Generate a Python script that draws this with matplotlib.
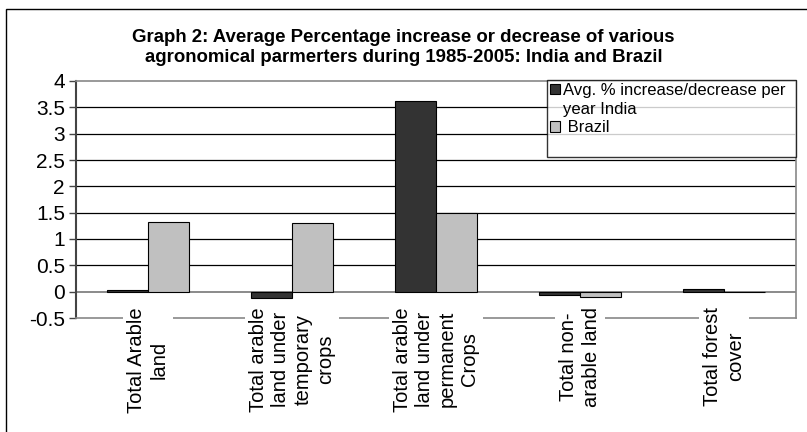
import matplotlib.pyplot as plt
import matplotlib.patches as mpatches
import numpy as np

plt.rcParams['font.family'] = ['Liberation Sans', 'DejaVu Sans']
plt.rcParams['axes.unicode_minus'] = False

categories = ["Total Arable\nland",
              "Total arable\nland under\ntemporary\ncrops",
              "Total arable\nland under\npermanent\nCrops",
              "Total non-\narable land",
              "Total forest\ncover"]
india = [0.03, -0.12, 3.62, -0.06, 0.06]
brazil = [1.33, 1.30, 1.49, -0.11, -0.01]
india_label = ["Avg. % increase/decrease per", "year India"]
brazil_label = " Brazil"
yticks = [-0.5, 0, 0.5, 1, 1.5, 2, 2.5, 3, 3.5, 4]

W, H = 807, 432
fig = plt.figure(figsize=(W / 100, H / 100), dpi=100)

# outer chart border (cut off on the right and bottom like the source)
fig.patches.append(mpatches.Rectangle((6 / W, -0.1), 1.2, 1.1 - 9 / H, transform=fig.transFigure,
                                      fill=False, edgecolor='black', linewidth=1.0))

ax = fig.add_axes([76 / W, 1 - 318 / H, (796 - 76) / W, (318 - 81) / H])

x = np.arange(len(categories))
bw = 1 / 3.5
b1 = ax.bar(x - bw / 2, india, bw, color='#333333', edgecolor='black', linewidth=0.8, zorder=3)
b2 = ax.bar(x + bw / 2, brazil, bw, color='#c0c0c0', edgecolor='black', linewidth=0.8, zorder=3)

ax.set_xlim(-0.5, len(categories) - 0.5)
ax.set_ylim(-0.5, 4)
ax.set_yticks(yticks)
ax.set_yticklabels([f"{v:g}" for v in yticks], fontsize=15)

# gridlines black, excel-like
for v in yticks[2:-1]:
    ax.axhline(v, color='black', linewidth=0.9, zorder=1)
ax.axhline(0, color='#777777', linewidth=1.2, zorder=2)

for side in ['top', 'right', 'bottom']:
    ax.spines[side].set_color('#888888')
    ax.spines[side].set_linewidth(1.2)
ax.spines['left'].set_color('#444444')
ax.spines['left'].set_linewidth(1.5)

ax.tick_params(axis='y', length=5, width=1, color='#444444', pad=3)
ax.tick_params(axis='x', length=0, pad=-8)
ax.set_xticks(x)
ax.set_xticklabels(categories, rotation=90, fontsize=14.5, ha='center', va='top',
                   multialignment='center', linespacing=1.22)
for lab in ax.get_xticklabels():
    lab.set_bbox(dict(facecolor='white', edgecolor='none', pad=3))
ax.xaxis.set_zorder(3)

fig.text(0.5, 1 - 38 / H, "Graph 2: Average Percentage increase or decrease of various",
         ha='center', va='center', fontsize=13.4, fontweight='bold')
fig.text(0.5, 1 - 57 / H, "agronomical parmerters during 1985-2005: India and Brazil",
         ha='center', va='center', fontsize=13.4, fontweight='bold')

blank = mpatches.Rectangle((0, 0), 1, 1, visible=False)
leg = fig.legend([b1, blank, b2, blank], [india_label[0], india_label[1], brazil_label, " "],
                 loc='upper left',
                 bbox_to_anchor=(547 / W, 1 - 84 / H, (796 - 547) / W, 0.01), mode='expand',
                 fontsize=12, frameon=True, fancybox=False, edgecolor='black',
                 handlelength=0.6, handleheight=0.6, handletextpad=0.15,
                 borderpad=0.2, borderaxespad=0, labelspacing=0.22)
leg.get_frame().set_linewidth(1.0)

fig.savefig("out.png", dpi=100)
